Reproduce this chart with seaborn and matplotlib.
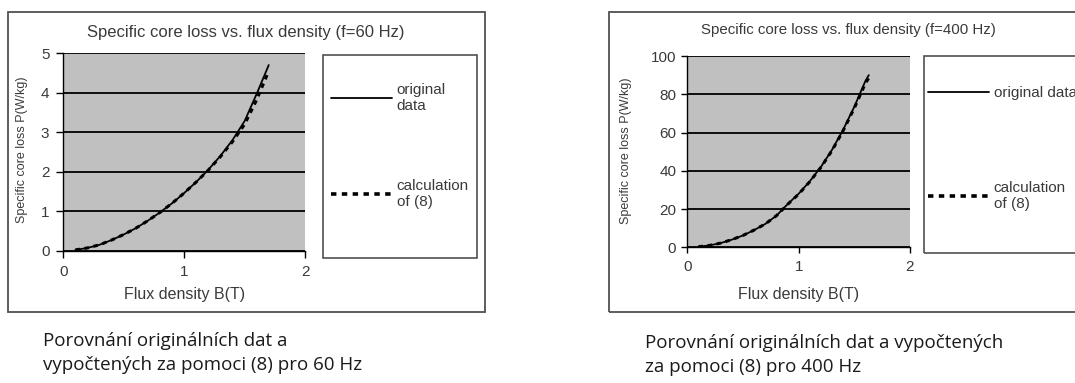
import pandas as pd
import matplotlib.pyplot as plt
import seaborn as sns
from matplotlib.patches import Rectangle
from matplotlib.lines import Line2D

# flux density B (T) and specific core loss P (W/kg)
b_60 = [0.1, 0.2, 0.3, 0.4, 0.5, 0.6, 0.7, 0.8, 0.9, 1.0, 1.1, 1.2, 1.3, 1.4, 1.5, 1.6, 1.7]
p_60_orig = [0.02, 0.07, 0.15, 0.27, 0.41, 0.57, 0.76, 0.97, 1.20, 1.46, 1.74, 2.05, 2.40, 2.80, 3.28, 3.97, 4.70]
p_60_calc = [0.02, 0.07, 0.15, 0.27, 0.41, 0.57, 0.76, 0.97, 1.20, 1.46, 1.74, 2.04, 2.38, 2.76, 3.20, 3.82, 4.55]

b_400 = [0.1, 0.2, 0.3, 0.4, 0.5, 0.6, 0.7, 0.8, 0.9, 1.0, 1.1, 1.2, 1.3, 1.4, 1.5, 1.6, 1.63]
p_400_orig = [0.3, 1.0, 2.2, 4.0, 6.2, 9.0, 12.2, 16.5, 22.5, 28.0, 34.5, 42.0, 51.0, 61.5, 73.5, 87.0, 90.0]
p_400_calc = [0.3, 1.0, 2.2, 4.0, 6.2, 9.0, 12.2, 16.5, 22.4, 27.8, 34.3, 41.8, 50.6, 61.0, 72.8, 85.8, 88.5]

titles = ['Specific core loss vs. flux density (f=60 Hz)', 'Specific core loss vs. flux density (f=400 Hz)']
captions = ['Porovnání originálních dat a\nvypočtených za pomoci (8) pro 60 Hz',
            'Porovnání originálních dat a vypočtených\nza pomoci (8) pro 400 Hz']
legend_labels = [['original\ndata', 'calculation\nof (8)'], ['original data', 'calculation\nof (8)']]

sns.set_style('white')
plt.rcParams['font.family'] = ['Liberation Sans', 'DejaVu Sans']

W, H = 1075, 383
TXT = '#3a3a3a'


def box(x0, y0, x1, y1):
    # pixel box -> figure fraction [left, bottom, width, height]
    return [x0 / W, 1 - y1 / H, (x1 - x0) / W, (y1 - y0) / H]


fig = plt.figure(figsize=(W / 100, H / 100), dpi=100)
fig.patch.set_facecolor('white')

# pixel layout of each panel: outer box, plot area, legend box, title, legend anchor, labels
panels = [
    dict(outer=(8, 12, 485, 312), area=(63.3, 53.2, 305, 250.7), leg=(323, 55, 477, 258),
         title=(246, 33, 12), leg_anchor=(331, 83), spacing=4.3, tick=(5, 5),
         xlab=-0.184, ylab=(-0.145, 0.51), cap=(43, 332),
         b=b_60, orig=p_60_orig, calc=p_60_calc, ymax=5, ystep=1),
    dict(outer=(609, 12, 1085, 312), area=(687.3, 56, 910, 247.3), leg=(924, 56, 1085, 253),
         title=(848, 30, 10.8), leg_anchor=(928, 86), spacing=5.3, tick=(4, 4),
         xlab=-0.207, ylab=(-0.248, 0.503), cap=(645, 334),
         b=b_400, orig=p_400_orig, calc=p_400_calc, ymax=100, ystep=20),
]

for i, p in enumerate(panels):
    # outer chart frame
    x0, y0, x1, y1 = p['outer']
    fig.patches.append(Rectangle((x0 / W, 1 - y1 / H), (x1 - x0) / W, (y1 - y0) / H,
                                 transform=fig.transFigure, fill=False, edgecolor='#505050', lw=1.3))
    # legend frame
    x0, y0, x1, y1 = p['leg']
    fig.patches.append(Rectangle((x0 / W, 1 - y1 / H), (x1 - x0) / W, (y1 - y0) / H,
                                 transform=fig.transFigure, fill=False, edgecolor='#505050', lw=1.2))

    ax = fig.add_axes(box(*p['area']))
    ax.set_facecolor('#c0c0c0')

    df = pd.DataFrame({'B': p['b'], 'original': p['orig'], 'calc': p['calc']})
    sns.lineplot(data=df, x='B', y='calc', ax=ax, color='black', lw=2.2,
                 linestyle=(0, (1.5, 1.5)), zorder=3)
    sns.lineplot(data=df, x='B', y='original', ax=ax, color='black', lw=1.3, zorder=4)

    ax.set_xlim(0, 2)
    ax.set_ylim(0, p['ymax'])
    ax.set_xticks([0, 1, 2])
    ax.set_yticks(range(0, p['ymax'] + 1, p['ystep']))
    ax.grid(axis='y', color='black', lw=1.3)
    ax.grid(axis='x', visible=False)
    ax.set_axisbelow(True)
    for s in ['top', 'right']:
        ax.spines[s].set_visible(False)
    for s in ['left', 'bottom']:
        ax.spines[s].set_color('black')
        ax.spines[s].set_linewidth(1.0)
    tlen, tpad = p['tick']
    ax.tick_params(axis='both', direction='out', length=tlen, width=1, color='black',
                   labelsize=11, labelcolor=TXT, pad=tpad, left=True, bottom=True)
    ax.tick_params(axis='x', pad=5)

    ax.set_xlabel('Flux density B(T)', fontsize=11.5, color=TXT)
    ax.xaxis.set_label_coords(0.5, p['xlab'])
    ax.set_ylabel('Specific core loss P(W/kg)', fontsize=9, color=TXT)
    ax.yaxis.set_label_coords(*p['ylab'])

    tx, ty, tsize = p['title']
    fig.text(tx / W, 1 - ty / H, titles[i], ha='center', va='center', fontsize=tsize, color=TXT)

    handles = [Line2D([], [], color='black', lw=1.3),
               Line2D([], [], color='black', lw=2.6, linestyle=(0, (1.5, 1.5)))]
    lx, ly = p['leg_anchor']
    ax.legend(handles, legend_labels[i], loc='upper left', bbox_to_anchor=(lx / W, 1 - ly / H),
              bbox_transform=fig.transFigure, frameon=False, borderpad=0, borderaxespad=0,
              handlelength=4.0, handletextpad=0.3, labelspacing=p['spacing'], fontsize=11,
              labelcolor=TXT)

    cx, cy = p['cap']
    fig.text(cx / W, 1 - cy / H, captions[i], ha='left', va='top', fontsize=13.5,
             family=['Open Sans', 'DejaVu Sans'], color='#1a1a1a', linespacing=1.4)

plt.savefig('out.png', dpi=100)
